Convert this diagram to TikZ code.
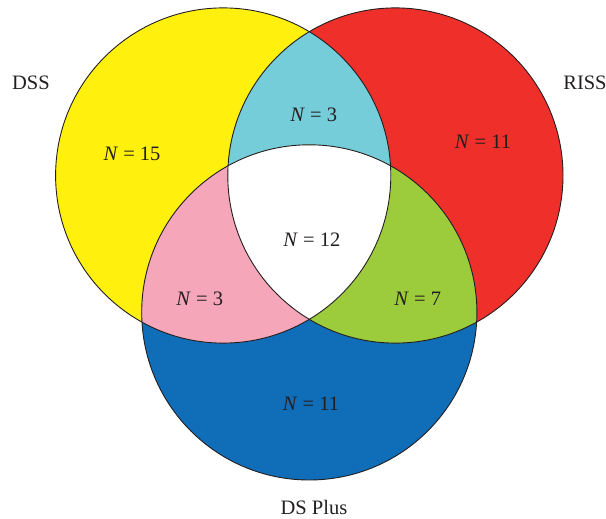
\documentclass[tikz,border=0pt]{standalone}
\usepackage{fontspec}
\setmainfont{Liberation Serif}
\definecolor{cYel}{HTML}{FFF10D}
\definecolor{cRed}{HTML}{EE2F2A}
\definecolor{cCyan}{HTML}{75CDD9}
\definecolor{cPink}{HTML}{F5A6B9}
\definecolor{cGreen}{HTML}{9CCB3B}
\definecolor{cBlue}{HTML}{106DB7}
\definecolor{txt}{HTML}{231F20}
\begin{document}
\begin{tikzpicture}[x=1pt,y=-1pt,
  lbl/.style={font=\fontsize{20.5}{24}\selectfont, text=txt, inner sep=0pt},
  rim/.style={draw=txt, line width=0.9pt}]
\useasboundingbox (0,0) rectangle (606,519);
\def\rr{167.6pt}
\coordinate (Y) at (223.2,175.5);
\coordinate (R) at (395.4,175.5);
\coordinate (B) at (309.3,312.4);
% single sets
\fill[cYel] (Y) circle[radius=\rr];
\fill[cRed] (R) circle[radius=\rr];
\fill[cBlue] (B) circle[radius=\rr];
% pairwise
\begin{scope}
  \clip (Y) circle[radius=\rr];
  \fill[cCyan] (R) circle[radius=\rr];
  \fill[cPink] (B) circle[radius=\rr];
\end{scope}
\begin{scope}
  \clip (R) circle[radius=\rr];
  \fill[cGreen] (B) circle[radius=\rr];
\end{scope}
% triple
\begin{scope}
  \clip (Y) circle[radius=\rr];
  \clip (R) circle[radius=\rr];
  \fill[white] (B) circle[radius=\rr];
\end{scope}
% outlines
\draw[rim] (Y) circle[radius=\rr];
\draw[rim] (R) circle[radius=\rr];
\draw[rim] (B) circle[radius=\rr];
% labels
\node[lbl] (lDSS) at (31,82.5) {DSS};
\node[lbl] (lRISS) at (585,82.5) {RISS};
\node[lbl] (lDSP) at (314,507.5) {DS Plus};
\node[lbl] (nY) at (132,153.7) {\textit{N} = 15};
\node[lbl] (nR) at (483,141.5) {\textit{N} = 11};
\node[lbl] (nYR) at (313.7,115) {\textit{N} = 3};
\node[lbl] (nYRB) at (311.8,240) {\textit{N} = 12};
\node[lbl] (nYB) at (199.7,299.2) {\textit{N} = 3};
\node[lbl] (nRB) at (417.7,299.2) {\textit{N} = 7};
\node[lbl] (nB) at (311,403.7) {\textit{N} = 11};
\end{tikzpicture}
\end{document}
